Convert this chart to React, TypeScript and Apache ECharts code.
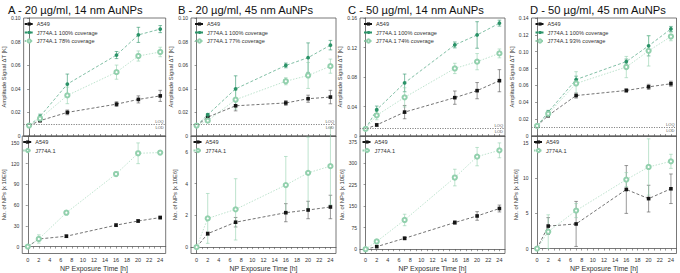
import React, { useEffect, useRef } from "react";
import * as echarts from "echarts";

const times = [0, 2, 7, 16, 20, 24];
const xTickLabels = [0, 2, 4, 6, 8, 10, 12, 14, 16, 18, 20, 22, 24];

// Panel A
const aTopA549 = [0.0088, 0.013, 0.02, 0.027, 0.031, 0.034];
const aTopA549Err = [0, 0.001, 0.002, 0.002, 0.003, 0.0047];
const aTopFull = [0.0088, 0.0165, 0.044, 0.0686, 0.0857, 0.0906];
const aTopFullErr = [0, 0.002, 0.0085, 0.003, 0.0064, 0.003];
const aTopPart = [0.0088, 0.0148, 0.0344, 0.0541, 0.0678, 0.0712];
const aTopPartErr = [0, 0.002, 0.007, 0.006, 0.0043, 0.004];
const aBotA549 = [0, 11, 15, 31, 37, 42];
const aBotA549Err = [0, 2, 2, 2, 2, 2];
const aBotJ774 = [0, 11, 49, 105, 135, 136];
const aBotJ774Err = [0, 6, 3, 3, 15, 3];

// Panel B
const bTopA549 = [0.0088, 0.016, 0.0256, 0.028, 0.0316, 0.033];
const bTopA549Err = [0, 0.001, 0.0043, 0.002, 0.003, 0.0057];
const bTopFull = [0.0088, 0.018, 0.04, 0.0598, 0.0664, 0.077];
const bTopFullErr = [0, 0.001, 0.011, 0.002, 0.0125, 0.004];
const bTopPart = [0.0088, 0.013, 0.0308, 0.0464, 0.0513, 0.0592];
const bTopPartErr = [0, 0.001, 0.008, 0.003, 0.011, 0.006];
const bBotA549 = [0, 0.85, 1.57, 2.17, 2.34, 2.53];
const bBotA549Err = [0, 0.1, 0.3, 0.57, 0.55, 0.74];
const bBotJ774 = [0, 1.81, 2.38, 3.91, 4.68, 5.1];
const bBotJ774Err = [0, 1.57, 1.93, 1.8, 2.25, 2.44];

// Panel C
const cTopA549 = [0.0096, 0.015, 0.0324, 0.052, 0.0615, 0.075];
const cTopA549Err = [0, 0.002, 0.009, 0.009, 0.011, 0.015];
const cTopFull = [0.0096, 0.0356, 0.072, 0.1235, 0.137, 0.153];
const cTopFullErr = [0, 0.005, 0.012, 0.004, 0.018, 0.004];
const cTopPart = [0.0096, 0.028, 0.0524, 0.0916, 0.1008, 0.112];
const cTopPartErr = [0, 0.006, 0.013, 0.007, 0.011, 0.006];
const cBotA549 = [0, 9, 38, 93, 116, 142];
const cBotA549Err = [0, 3, 5, 6, 15, 12];
const cBotJ774 = [0, 27, 102, 250, 323, 345];
const cBotJ774Err = [0, 5, 20, 29, 32, 26];

// Panel D
const dTopA549 = [0.012, 0.0243, 0.048, 0.054, 0.0583, 0.062];
const dTopA549Err = [0, 0.002, 0.003, 0.002, 0.003, 0.003];
const dTopFull = [0.012, 0.0284, 0.067, 0.0883, 0.107, 0.127];
const dTopFullErr = [0, 0.002, 0.004, 0.003, 0.012, 0.003];
const dTopPart = [0.012, 0.0264, 0.0623, 0.0818, 0.101, 0.118];
const dTopPartErr = [0, 0.002, 0.014, 0.0126, 0.018, 0.005];
const dBotA549 = [0, 3.2, 3.5, 8.4, 7.1, 8.5];
const dBotA549Err = [0, 1.2, 3.2, 3.4, 1.9, 2.1];
const dBotJ774 = [0, 2.4, 5.4, 9.8, 11.6, 12.4];
const dBotJ774Err = [0, 2.4, 1, 1, 4.0, 1];

const titles = [
  "A - 20 µg/ml, 14 nm AuNPs",
  "B - 20 µg/ml, 45 nm AuNPs",
  "C - 50 µg/ml, 14 nm AuNPs",
  "D - 50 µg/ml, 45 nm AuNPs",
];
const fullLabel = "J774A.1 100% coverage";
const partLabels = [
  "J774A.1 78% coverage",
  "J774A.1 77% coverage",
  "J774A.1 74% coverage",
  "J774A.1 93% coverage",
];
const topMax = [0.1, 0.1, 0.16, 0.14];
const topTicks = [
  [0, 0.02, 0.04, 0.06, 0.08, 0.1],
  [0, 0.02, 0.04, 0.06, 0.08, 0.1],
  [0, 0.04, 0.08, 0.12, 0.16],
  [0, 0.02, 0.04, 0.06, 0.08, 0.1, 0.12, 0.14],
];
const botMin = [-10, -0.4, -15, -0.7];
const botMax = [160, 7, 395, 16];
const botTicks = [
  [0, 30, 60, 90, 120, 150],
  [0, 2, 4, 6],
  [0, 75, 150, 225, 300, 375],
  [0, 5, 10, 15],
];
const lodValues = [0.0092, 0.009, 0.0105, 0.0105];

const panelData = [
  { top: [aTopA549, aTopA549Err, aTopFull, aTopFullErr, aTopPart, aTopPartErr], bot: [aBotA549, aBotA549Err, aBotJ774, aBotJ774Err] },
  { top: [bTopA549, bTopA549Err, bTopFull, bTopFullErr, bTopPart, bTopPartErr], bot: [bBotA549, bBotA549Err, bBotJ774, bBotJ774Err] },
  { top: [cTopA549, cTopA549Err, cTopFull, cTopFullErr, cTopPart, cTopPartErr], bot: [cBotA549, cBotA549Err, cBotJ774, cBotJ774Err] },
  { top: [dTopA549, dTopA549Err, dTopFull, dTopFullErr, dTopPart, dTopPartErr], bot: [dBotA549, dBotA549Err, dBotJ774, dBotJ774Err] },
];

const BLACK = "#151515";
const GREEN = "#2b9368";
const LIGHT = "#92d0ad";
const AXIS = "#555";
const TXT = "#333";
const FONT = "Liberation Sans, Arial, sans-serif";

const colLeft = [20.7, 191, 360, 531.5];
const colWidth = 145;
const topY = 18;
const midY = 136;
const botY = 253.5;
const titleLeft = [8, 178, 348, 530];

function fmtTop(v: number) {
  return v === 0 ? "0" : v.toFixed(2);
}

function lineSeries(name: string, xi: number, vals: number[], color: string, symbol: string, size: number, dash: any) {
  return {
    type: "line",
    name,
    xAxisIndex: xi,
    yAxisIndex: xi,
    data: times.map((t, i) => [t, vals[i]]),
    symbol,
    symbolSize: size,
    itemStyle: { color, borderColor: color, borderWidth: symbol === "emptyCircle" ? 0.7 : 0 },
    lineStyle: { color, width: 0.6, type: dash },
    z: 3,
  };
}

function errSeries(xi: number, vals: number[], errs: number[], color: string) {
  return {
    type: "custom",
    xAxisIndex: xi,
    yAxisIndex: xi,
    silent: true,
    z: 2,
    data: times.map((t, i) => [t, vals[i] - errs[i], vals[i] + errs[i]]),
    encode: { x: 0, y: [1, 2] },
    renderItem: (params: any, api: any) => {
      const x = api.value(0);
      const lo = api.coord([x, api.value(1)]);
      const hi = api.coord([x, api.value(2)]);
      if (Math.abs(lo[1] - hi[1]) < 0.5) return { type: "group", children: [] };
      const w = 1.8;
      const st = { stroke: color, lineWidth: 0.6 };
      return {
        type: "group",
        children: [
          { type: "line", shape: { x1: lo[0], y1: lo[1], x2: hi[0], y2: hi[1] }, style: st },
          { type: "line", shape: { x1: lo[0] - w, y1: lo[1], x2: lo[0] + w, y2: lo[1] }, style: st },
          { type: "line", shape: { x1: hi[0] - w, y1: hi[1], x2: hi[0] + w, y2: hi[1] }, style: st },
        ],
      };
    },
  };
}

function buildOption() {
  const grid: any[] = [];
  const xAxis: any[] = [];
  const yAxis: any[] = [];
  const series: any[] = [];
  const legend: any[] = [];
  const title: any[] = [];
  const minorX: number[] = [];
  for (let v = 0; v <= 24; v += 1) minorX.push(v);

  for (let c = 0; c < 4; c++) {
    const ti = c * 2;
    const bi = c * 2 + 1;
    const gridStyle = { show: true, borderColor: AXIS, borderWidth: 0.8, backgroundColor: "transparent" };
    grid.push({ left: colLeft[c], top: topY, width: colWidth, height: midY - topY, ...gridStyle });
    grid.push({ left: colLeft[c], top: midY, width: colWidth, height: botY - midY, ...gridStyle });

    const xBase = {
      type: "value",
      min: -1,
      max: 25,
      splitLine: { show: false },
      axisLine: { show: true, lineStyle: { color: AXIS, width: 0.8 } },
    };
    xAxis.push({
      ...xBase,
      gridIndex: ti,
      axisTick: { show: true, inside: true, length: 2, customValues: minorX, lineStyle: { color: AXIS, width: 0.6 } },
      axisLabel: { show: false },
    });
    xAxis.push({
      ...xBase,
      gridIndex: bi,
      name: "NP Exposure Time [h]",
      nameLocation: "middle",
      nameGap: 11,
      nameTextStyle: { fontSize: 7, color: TXT, fontFamily: FONT },
      axisTick: { show: true, inside: false, length: 2, customValues: minorX, lineStyle: { color: AXIS, width: 0.6 } },
      axisLabel: { customValues: xTickLabels, fontSize: 5.5, color: TXT, margin: 3, fontFamily: FONT },
    });

    const yBase = {
      type: "value",
      splitLine: { show: false },
      axisLine: { show: true, lineStyle: { color: AXIS, width: 0.8 } },
      nameLocation: "middle",
      nameTextStyle: { fontSize: 5.8, color: TXT, fontFamily: FONT },
    };
    yAxis.push({
      ...yBase,
      gridIndex: ti,
      min: 0,
      max: topMax[c],
      name: "Amplitude Signal ΔT [K]",
      nameGap: 11.5,
      axisTick: { show: true, length: 2, customValues: topTicks[c], lineStyle: { color: AXIS, width: 0.6 } },
      axisLabel: { customValues: topTicks[c], formatter: (v: number) => fmtTop(v), fontSize: 5, lineHeight: 5, color: TXT, margin: 3, fontFamily: FONT },
    });
    yAxis.push({
      ...yBase,
      gridIndex: bi,
      min: botMin[c],
      max: botMax[c],
      name: "No. of NPs [x 10E6]",
      nameGap: 13,
      axisTick: { show: true, length: 2, customValues: botTicks[c], lineStyle: { color: AXIS, width: 0.6 } },
      axisLabel: { customValues: botTicks[c], formatter: (v: number) => String(v), fontSize: 5, lineHeight: 5, color: TXT, margin: 3, fontFamily: FONT },
    });

    const [tA, tAe, tF, tFe, tP, tPe] = panelData[c].top;
    const [bA, bAe, bJ, bJe] = panelData[c].bot;

    // LOD/LOQ dotted line with labels
    const mlStyle = { color: "#777", width: 0.7, type: [1, 1.5] };
    series.push({
      type: "line",
      xAxisIndex: ti,
      yAxisIndex: ti,
      data: [],
      symbol: "none",
      silent: true,
      z: 1,
      markLine: {
        silent: true,
        symbol: ["none", "none"],
        lineStyle: mlStyle,
        data: [
          { yAxis: lodValues[c], label: { show: true, position: "insideEndTop", formatter: "LOQ", fontSize: 4, color: "#555", distance: [2, 1] } },
          { yAxis: lodValues[c], label: { show: true, position: "insideEndBottom", formatter: "LOD", fontSize: 4, color: "#555", distance: [2, 1] } },
        ],
      },
    });

    series.push(errSeries(ti, tA, tAe, "#555"));
    series.push(errSeries(ti, tF, tFe, GREEN));
    series.push(errSeries(ti, tP, tPe, LIGHT));
    series.push(lineSeries("A549", ti, tA, BLACK, "rect", 3.6, [3, 2]));
    series.push(lineSeries(fullLabel, ti, tF, GREEN, "circle", 3.8, [3, 2]));
    series.push(lineSeries(partLabels[c], ti, tP, LIGHT, "emptyCircle", 4.2, [1.5, 1.5]));

    series.push(errSeries(bi, bA, bAe, "#555"));
    series.push(errSeries(bi, bJ, bJe, LIGHT));
    series.push(lineSeries("A549", bi, bA, BLACK, "rect", 3.6, [3, 2]));
    series.push(lineSeries("J774A.1", bi, bJ, LIGHT, "emptyCircle", 4.2, [1.5, 1.5]));

    const legBase = {
      orient: "vertical",
      itemWidth: 9,
      itemHeight: 4,
      itemGap: 2.5,
      padding: 0,
      selectedMode: false,
      textStyle: { fontSize: 5.6, color: TXT, fontFamily: FONT, padding: [0, 0, 0, -2] },
    };
    legend.push({ ...legBase, left: colLeft[c] + 3, top: topY + 3, data: ["A549", fullLabel, partLabels[c]] });
    legend.push({ ...legBase, left: colLeft[c] + 1.5, top: midY + 3, data: ["A549", "J774A.1"] });

    title.push({
      text: titles[c],
      left: titleLeft[c],
      top: 4,
      padding: 0,
      textStyle: { fontSize: 11.2, lineHeight: 11, fontWeight: "normal", color: "#111", fontFamily: FONT },
    });
  }

  return { animation: false, backgroundColor: "#fff", title, grid, xAxis, yAxis, legend, series };
}

export default function App() {
  const ref = useRef<HTMLDivElement>(null);
  useEffect(() => {
    if (!ref.current) return;
    const chart = echarts.init(ref.current, undefined, { renderer: "svg" });
    chart.setOption(buildOption() as any);
    return () => chart.dispose();
  }, []);
  return <div ref={ref} style={{ position: "fixed", left: 0, top: 0, width: 680, height: 273 }} />;
}
